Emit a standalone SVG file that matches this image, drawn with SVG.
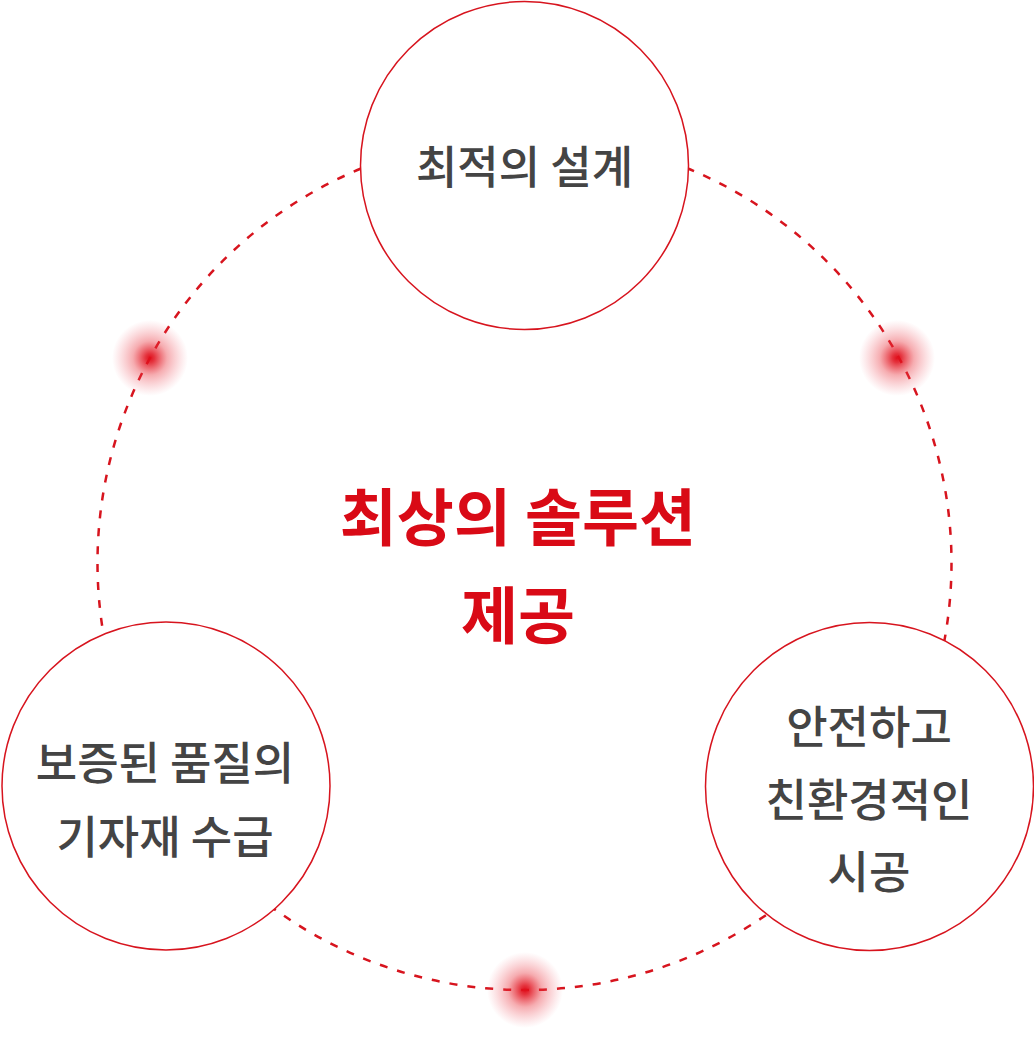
<svg xmlns="http://www.w3.org/2000/svg" width="1034" height="1046" viewBox="0 0 1034 1046">
<style>
.ring{fill:none;stroke:#d7141e;stroke-width:2.5;stroke-dasharray:8 10}
.node{fill:#ffffff;stroke:#d7141e;stroke-width:1.5}
.lbl{font-family:"Noto Sans CJK KR","Noto Sans",sans-serif;font-size:45px;font-weight:500;fill:#444444;text-anchor:middle}
.title{font-family:"Noto Sans CJK KR","Noto Sans",sans-serif;font-size:62px;font-weight:bold;fill:#d90a16;text-anchor:middle}
</style>
<defs>
<radialGradient id="glow">
<stop offset="0" stop-color="#e0101c" stop-opacity="1"/>
<stop offset="0.12" stop-color="#e0101c" stop-opacity="0.85"/>
<stop offset="0.45" stop-color="#e8303a" stop-opacity="0.4"/>
<stop offset="1" stop-color="#f06070" stop-opacity="0"/>
</radialGradient>
</defs>
<rect width="1034" height="1046" fill="#ffffff"/>
<g id="connectors">
<circle class="ring" cx="524.5" cy="563" r="427"/>
</g>
<g id="glows">
<circle cx="150" cy="358" r="38" fill="url(#glow)"/>
<circle cx="897" cy="358" r="38" fill="url(#glow)"/>
<circle cx="525" cy="990" r="38" fill="url(#glow)"/>
</g>
<g id="node-top">
<circle class="node" cx="524.5" cy="165.5" r="164"/>
<text class="lbl" x="524.5" y="184">최적의 설계</text>
</g>
<g id="node-left">
<circle class="node" cx="166" cy="786" r="164"/>
<text class="lbl" x="165" y="780">보증된 품질의</text>
<text class="lbl" x="165" y="854">기자재 수급</text>
</g>
<g id="node-right">
<circle class="node" cx="869.5" cy="786.5" r="164"/>
<text class="lbl" x="869" y="744">안전하고</text>
<text class="lbl" x="869" y="817">친환경적인</text>
<text class="lbl" x="869" y="889">시공</text>
</g>
<g id="center">
<text class="title" x="518" y="541">최상의 솔루션</text>
<text class="title" x="518" y="639">제공</text>
</g>
</svg>
